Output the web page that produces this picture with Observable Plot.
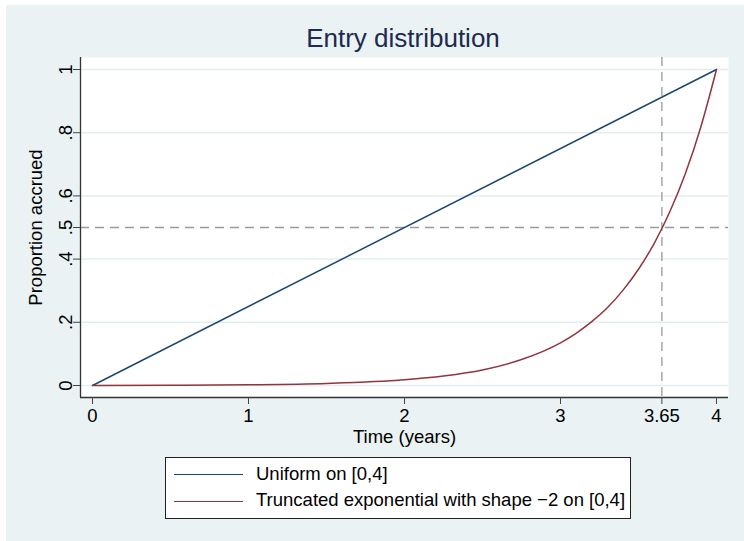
<!DOCTYPE html>
<html><head><meta charset="utf-8">
<script src="https://cdn.jsdelivr.net/npm/d3@7"></script>
<script src="https://cdn.jsdelivr.net/npm/@observablehq/plot@0.6"></script>
<style>
body{margin:0;background:#fff;}
#page{position:relative;width:744px;height:541px;overflow:hidden;font-family:"Liberation Sans",Arial,sans-serif;color:#000;}
#bg{position:absolute;left:6px;top:5px;right:0;bottom:0;background:#eaf2f3;}
#title{position:absolute;left:203px;width:400px;top:25px;text-align:center;font-size:26px;line-height:26px;color:#1c2b4f;white-space:nowrap;}
#chart{position:absolute;left:0;top:0;}
#legend{position:absolute;left:165px;top:457px;width:466px;height:62px;box-sizing:border-box;background:#fff;border:1px solid #222;}
.lline{position:absolute;left:8px;width:69px;height:0;}
.ltext{position:absolute;left:90px;font-size:18.5px;line-height:20px;white-space:nowrap;}
</style></head>
<body>
<div id="page"><div id="bg"></div><div id="title"></div><div id="chart"></div><div id="legend"></div></div>
<script>
const title = "Entry distribution";
const xLabel = "Time (years)";
const yLabel = "Proportion accrued";
const xTicks = [0, 1, 2, 3, 3.65, 4];
const xTickLabels = ["0", "1", "2", "3", "3.65", "4"];
const yTicks = [0, 0.2, 0.4, 0.5, 0.6, 0.8, 1];
const yTickLabels = ["0", ".2", ".4", ".5", ".6", ".8", "1"];
const yGrid = [0, 0.2, 0.4, 0.6, 0.8, 1];
const refX = [3.65];
const refY = [0.5];
const seriesNames = ["Uniform on [0,4]", "Truncated exponential with shape \u22122 on [0,4]"];
const seriesColors = ["#1a476f", "#90353b"];
const uniformT = [0, 4];
const uniformP = [0, 1];
const expT = [0, 0.5, 1, 1.5, 2, 2.25, 2.5, 2.75, 3, 3.1, 3.2, 3.3, 3.4, 3.5, 3.6, 3.7, 3.8, 3.9, 4];
const expP = [0, 0.0006, 0.0021, 0.0064, 0.018, 0.030, 0.049, 0.082, 0.135, 0.165, 0.202, 0.246, 0.301, 0.368, 0.449, 0.549, 0.670, 0.819, 1];
const xDomain = [-0.077, 4.077];
const yDomain = [-0.038, 1.038];

document.getElementById("title").textContent = title;

const uni = uniformT.map((t, i) => ({t, p: uniformP[i]}));
const ex = expT.map((t, i) => ({t, p: expP[i]}));
const font = "'Liberation Sans', Arial, sans-serif";

const plot = Plot.plot({
  width: 744, height: 460,
  marginLeft: 80, marginRight: 16, marginTop: 57, marginBottom: 63,
  style: {background: "transparent", fontFamily: font, fontSize: "18.5px", color: "#000", overflow: "visible"},
  x: {domain: xDomain, axis: null},
  y: {domain: yDomain, axis: null},
  marks: [
    Plot.frame({fill: "white", stroke: "none"}),
    Plot.ruleY(yGrid, {stroke: "#e4eef0", strokeWidth: 1.5}),
    Plot.ruleY(refY, {stroke: "#9a9a9a", strokeWidth: 1.3, strokeDasharray: "9,6"}),
    Plot.ruleX(refX, {stroke: "#9a9a9a", strokeWidth: 1.3, strokeDasharray: "9,6"}),
    Plot.line(uni, {x: "t", y: "p", stroke: seriesColors[0], strokeWidth: 1.5}),
    Plot.line(ex, {x: "t", y: "p", stroke: seriesColors[1], strokeWidth: 1.5, curve: "monotone-x"}),
    Plot.ruleX([xDomain[0]], {stroke: "#333", strokeWidth: 1.3}),
    Plot.ruleY([yDomain[0]], {stroke: "#333", strokeWidth: 1.3}),
    Plot.axisX(xTicks, {tickSize: 7, tickPadding: 4, fontSize: 18.5, label: null, stroke: "#444", fill: "#000",
      tickFormat: d => xTickLabels[xTicks.indexOf(d)]}),
    Plot.axisY(yTicks, {tickSize: 7, label: null, stroke: "#444", tickFormat: () => ""}),
    Plot.text(yTicks, {y: d => d, text: d => yTickLabels[yTicks.indexOf(d)], frameAnchor: "left", dx: -9,
      rotate: -90, textAnchor: "middle", lineAnchor: "bottom", fontSize: 18.5, fill: "#000"}),
    Plot.text([yLabel], {text: d => d, frameAnchor: "left", dx: -38.5, rotate: -90, textAnchor: "middle",
      lineAnchor: "bottom", fontSize: 18.5, fill: "#000"}),
    Plot.text([xLabel], {text: d => d, frameAnchor: "bottom", dy: 45, lineAnchor: "bottom", fontSize: 18.5, fill: "#000"})
  ]
});
document.getElementById("chart").appendChild(plot);

const legend = document.getElementById("legend");
const lineTops = [16, 43];
const textTops = [6, 32];
seriesNames.forEach((name, i) => {
  const l = document.createElement("div");
  l.className = "lline";
  l.style.top = lineTops[i] + "px";
  l.style.borderTop = "1.5px solid " + seriesColors[i];
  legend.appendChild(l);
  const t = document.createElement("div");
  t.className = "ltext";
  t.style.top = textTops[i] + "px";
  t.textContent = name;
  legend.appendChild(t);
});
</script>
</body></html>
